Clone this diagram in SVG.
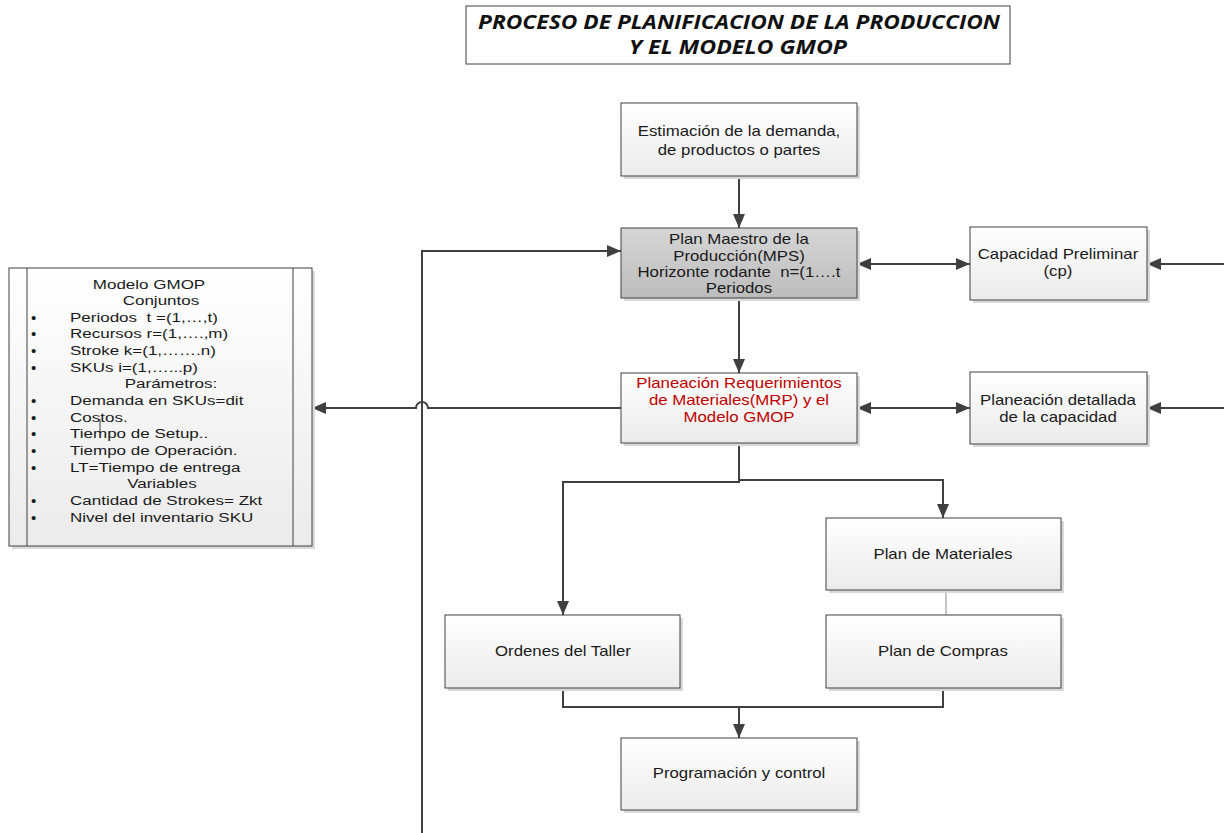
<svg xmlns="http://www.w3.org/2000/svg" width="1224" height="833" viewBox="0 0 1224 833">
  <style>
    .box { stroke: #404040; stroke-width: 1; fill: url(#boxFill); }
    .box-dark { stroke: #404040; stroke-width: 1; fill: url(#boxFillDark); }
    .shadow { fill: #d9d9d9; }
    .lbl { font-family: "Liberation Sans", Arial, sans-serif; font-size: 14px; fill: #1a1a1a; text-anchor: middle; white-space: pre; transform-box: fill-box; transform-origin: center; transform: scaleX(1.2); }
    .red { fill: #c00000; }
    .list { font-family: "Liberation Sans", Arial, sans-serif; font-size: 13.5px; fill: #1a1a1a; white-space: pre; transform-box: fill-box; transform-origin: left; transform: scaleX(1.26); }
    .head { text-anchor: middle; transform-origin: center; }
    .bullet { font-family: "Liberation Sans", Arial, sans-serif; font-size: 15px; fill: #1a1a1a; }
    .title { font-family: "Open Sans", "Liberation Sans", sans-serif; font-size: 19px; font-weight: bold; font-style: italic; fill: #111; }
    .wire { fill: none; stroke: #404040; stroke-width: 2; }
    .thin { fill: none; stroke: #b0b0b0; stroke-width: 1.5; }
  </style>
  <defs>
    <linearGradient id="boxFill" x1="0" y1="0" x2="0" y2="1">
      <stop offset="0" stop-color="#ffffff"/>
      <stop offset="1" stop-color="#ebebeb"/>
    </linearGradient>
    <linearGradient id="boxFillDark" x1="0" y1="0" x2="0" y2="1">
      <stop offset="0" stop-color="#d6d6d6"/>
      <stop offset="1" stop-color="#bcbcbc"/>
    </linearGradient>
    <marker id="arrow" viewBox="0 0 14 12" refX="14" refY="6" markerWidth="14" markerHeight="12" markerUnits="userSpaceOnUse" orient="auto-start-reverse">
      <path d="M0,0 L14,6 L0,12 z" fill="#404040"/>
    </marker>
  </defs>

  <rect width="1224" height="833" fill="#ffffff"/>

  <!-- title -->
  <g id="title">
    <rect x="466" y="6" width="544" height="58" fill="#ffffff" stroke="#404040" stroke-width="1"/>
    <text class="title" x="478" y="29" textLength="522" lengthAdjust="spacingAndGlyphs">PROCESO DE PLANIFICACION DE LA PRODUCCION</text>
    <text class="title" x="629" y="54" textLength="218" lengthAdjust="spacingAndGlyphs">Y EL MODELO GMOP</text>
  </g>

  <!-- connectors -->
  <g id="connectors">
    <path class="wire" d="M739,176 V228" marker-end="url(#arrow)"/>
    <path class="wire" d="M739,298 V373" marker-end="url(#arrow)"/>
    <path class="wire" d="M857,264 H970" marker-start="url(#arrow)" marker-end="url(#arrow)"/>
    <path class="wire" d="M1224,264 H1147" marker-end="url(#arrow)"/>
    <path class="wire" d="M857,408 H970" marker-start="url(#arrow)" marker-end="url(#arrow)"/>
    <path class="wire" d="M1224,408 H1147" marker-end="url(#arrow)"/>
    <!-- MRP feeds the GMOP model, hopping over the feedback line -->
    <path class="wire" d="M621,408 H428 A6,6 0 0 0 416,408 H312" marker-end="url(#arrow)"/>
    <!-- feedback loop into the master plan -->
    <path class="wire" d="M422,833 V251 H621" marker-end="url(#arrow)"/>
    <path class="wire" d="M739,443 V482 H563 V615" marker-end="url(#arrow)"/>
    <path class="wire" d="M739,480 H943 V518" marker-end="url(#arrow)"/>
    <path class="thin" d="M946,590 V615"/>
    <path class="wire" d="M563,688 V707 H943 V688"/>
    <path class="wire" d="M739,707 V738" marker-end="url(#arrow)"/>
  </g>

  <!-- demand estimate -->
  <g id="estimacion">
    <rect class="shadow" x="624" y="106" width="236" height="73"/>
    <rect class="box" x="621" y="103" width="236" height="73"/>
    <text class="lbl" x="739" y="136">Estimación de la demanda,</text>
    <text class="lbl" x="739" y="155">de productos o partes</text>
  </g>

  <!-- master production schedule -->
  <g id="mps">
    <rect class="shadow" x="624" y="231" width="236" height="70"/>
    <rect class="box-dark" x="621" y="228" width="236" height="70"/>
    <text class="lbl" x="739" y="244">Plan Maestro de la</text>
    <text class="lbl" x="739" y="261">Producción(MPS)</text>
    <text class="lbl" x="739" y="277">Horizonte rodante  n=(1….t</text>
    <text class="lbl" x="739" y="293">Periodos</text>
  </g>

  <!-- MRP -->
  <g id="mrp">
    <rect class="shadow" x="624" y="376" width="236" height="70"/>
    <rect class="box" x="621" y="373" width="236" height="70"/>
    <text class="lbl red" x="739" y="388">Planeación Requerimientos</text>
    <text class="lbl red" x="739" y="405">de Materiales(MRP) y el</text>
    <text class="lbl red" x="739" y="422">Modelo GMOP</text>
  </g>

  <!-- preliminary capacity -->
  <g id="capacidad-preliminar">
    <rect class="shadow" x="973" y="230" width="177" height="73"/>
    <rect class="box" x="970" y="227" width="177" height="73"/>
    <text class="lbl" x="1058" y="259">Capacidad Preliminar</text>
    <text class="lbl" x="1058" y="276">(cp)</text>
  </g>

  <!-- detailed capacity -->
  <g id="capacidad-detallada">
    <rect class="shadow" x="973" y="375" width="177" height="72"/>
    <rect class="box" x="970" y="372" width="177" height="72"/>
    <text class="lbl" x="1058" y="405">Planeación detallada</text>
    <text class="lbl" x="1058" y="422">de la capacidad</text>
  </g>

  <!-- materials plan -->
  <g id="plan-materiales">
    <rect class="shadow" x="829" y="521" width="235" height="72"/>
    <rect class="box" x="826" y="518" width="235" height="72"/>
    <text class="lbl" x="943" y="559">Plan de Materiales</text>
  </g>

  <!-- purchasing plan -->
  <g id="plan-compras">
    <rect class="shadow" x="829" y="618" width="235" height="73"/>
    <rect class="box" x="826" y="615" width="235" height="73"/>
    <text class="lbl" x="943" y="656">Plan de Compras</text>
  </g>

  <!-- shop orders -->
  <g id="ordenes-taller">
    <rect class="shadow" x="448" y="618" width="235" height="73"/>
    <rect class="box" x="445" y="615" width="235" height="73"/>
    <text class="lbl" x="563" y="656">Ordenes del Taller</text>
  </g>

  <!-- scheduling and control -->
  <g id="programacion">
    <rect class="shadow" x="624" y="741" width="236" height="72"/>
    <rect class="box" x="621" y="738" width="236" height="72"/>
    <text class="lbl" x="739" y="778">Programación y control</text>
  </g>

  <!-- GMOP model -->
  <g id="modelo-gmop">
    <rect class="shadow" x="12" y="271" width="303" height="278"/>
    <rect class="box" x="9" y="268" width="303" height="278"/>
    <line x1="27" y1="268" x2="27" y2="546" stroke="#404040" stroke-width="1"/>
    <line x1="293" y1="268" x2="293" y2="546" stroke="#404040" stroke-width="1"/>
    <line x1="100" y1="419" x2="100" y2="433" stroke="#404040" stroke-width="1"/>
    <text class="list head" x="149" y="289">Modelo GMOP</text>
    <text class="list head" x="161" y="305">Conjuntos</text>
    <text class="bullet" x="31" y="323">•</text><text class="list" x="70" y="322">Periodos  t =(1,…,t)</text>
    <text class="bullet" x="31" y="339">•</text><text class="list" x="70" y="338">Recursos r=(1,….,m)</text>
    <text class="bullet" x="31" y="356">•</text><text class="list" x="70" y="355">Stroke k=(1,…….n)</text>
    <text class="bullet" x="31" y="373">•</text><text class="list" x="70" y="372">SKUs i=(1,…...p)</text>
    <text class="list head" x="171" y="388">Parámetros:</text>
    <text class="bullet" x="31" y="406">•</text><text class="list" x="70" y="405">Demanda en SKUs=dit</text>
    <text class="bullet" x="31" y="423">•</text><text class="list" x="70" y="422">Costos.</text>
    <text class="bullet" x="31" y="439">•</text><text class="list" x="70" y="438">Tiempo de Setup..</text>
    <text class="bullet" x="31" y="456">•</text><text class="list" x="70" y="455">Tiempo de Operación.</text>
    <text class="bullet" x="31" y="473">•</text><text class="list" x="70" y="472">LT=Tiempo de entrega</text>
    <text class="list head" x="162" y="488">Variables</text>
    <text class="bullet" x="31" y="506">•</text><text class="list" x="70" y="505">Cantidad de Strokes= Zkt</text>
    <text class="bullet" x="31" y="523">•</text><text class="list" x="70" y="522">Nivel del inventario SKU</text>
  </g>
</svg>
